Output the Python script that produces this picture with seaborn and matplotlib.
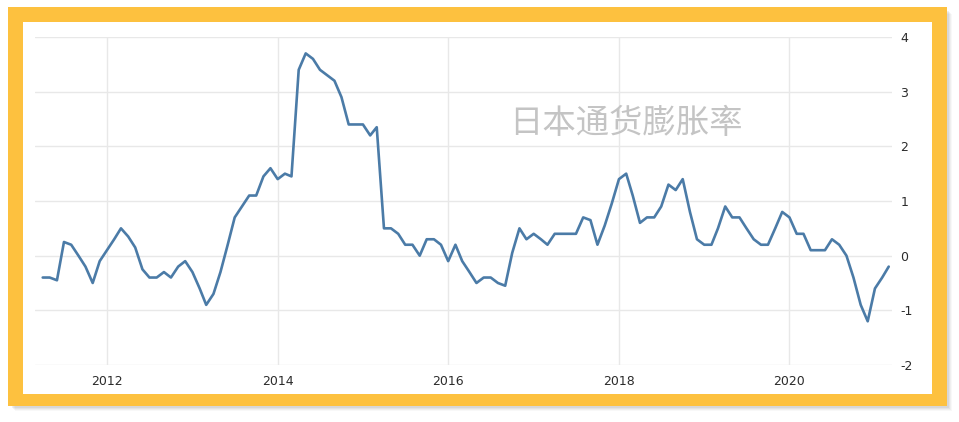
import pandas as pd
import matplotlib.pyplot as plt
import matplotlib.patches as patches
import seaborn as sns

# Japan CPI, year-on-year %, monthly from Apr 2011 to Mar 2021
cpi_2011 = [-0.4, -0.4, -0.45, 0.25, 0.2, 0.0, -0.2, -0.5, -0.1]  # Apr-Dec
cpi_2012 = [0.1, 0.3, 0.5, 0.35, 0.15, -0.25, -0.4, -0.4, -0.3, -0.4, -0.2, -0.1]
cpi_2013 = [-0.3, -0.6, -0.9, -0.7, -0.3, 0.2, 0.7, 0.9, 1.1, 1.1, 1.45, 1.6]
cpi_2014 = [1.4, 1.5, 1.45, 3.4, 3.7, 3.6, 3.4, 3.3, 3.2, 2.9, 2.4, 2.4]
cpi_2015 = [2.4, 2.2, 2.35, 0.5, 0.5, 0.4, 0.2, 0.2, 0.0, 0.3, 0.3, 0.2]
cpi_2016 = [-0.1, 0.2, -0.1, -0.3, -0.5, -0.4, -0.4, -0.5, -0.55, 0.05, 0.5, 0.3]
cpi_2017 = [0.4, 0.3, 0.2, 0.4, 0.4, 0.4, 0.4, 0.7, 0.65, 0.2, 0.55, 0.95]
cpi_2018 = [1.4, 1.5, 1.1, 0.6, 0.7, 0.7, 0.9, 1.3, 1.2, 1.4, 0.8, 0.3]
cpi_2019 = [0.2, 0.2, 0.5, 0.9, 0.7, 0.7, 0.5, 0.3, 0.2, 0.2, 0.5, 0.8]
cpi_2020 = [0.7, 0.4, 0.4, 0.1, 0.1, 0.1, 0.3, 0.2, 0.0, -0.4, -0.9, -1.2]
cpi_2021 = [-0.6, -0.4, -0.2]  # Jan-Mar

x_ticks = ['2012', '2014', '2016', '2018', '2020']
y_ticks = [-2, -1, 0, 1, 2, 3, 4]
title = '日本通货膨胀率'

values = (cpi_2011 + cpi_2012 + cpi_2013 + cpi_2014 + cpi_2015 + cpi_2016
          + cpi_2017 + cpi_2018 + cpi_2019 + cpi_2020 + cpi_2021)
df = pd.DataFrame({'date': pd.date_range('2011-04-01', periods=len(values), freq='MS'),
                   'cpi': values})

sns.set_style('white')
plt.rcParams['font.family'] = ['DejaVu Sans', 'Noto Sans CJK SC']
plt.rcParams['axes.unicode_minus'] = False

W, H = 959, 422
fig = plt.figure(figsize=(W / 100, H / 100), dpi=100)
fig.patch.set_facecolor('white')


def rect(x0, y0, x1, y1, **kw):
    # pixel box measured from the top-left corner
    r = patches.Rectangle((x0 / W, 1 - y1 / H), (x1 - x0) / W, (y1 - y0) / H,
                          transform=fig.transFigure, **kw)
    fig.patches.append(r)


# soft shadow, yellow frame, white panel
for i, a in enumerate([0.05, 0.07, 0.09, 0.12]):
    d = 5 - i
    rect(10 + d, 9 + d, 947 + d, 406 + d, facecolor='#808080', alpha=a, edgecolor='none')
rect(8, 7, 947, 406, facecolor='#fdc13f', edgecolor='none')
rect(23, 22, 932, 394, facecolor='white', edgecolor='none')

ax = fig.add_axes([35 / W, 1 - 365 / H, (892 - 35) / W, (365 - 37) / H])
ax.set_facecolor('none')
ax.set_zorder(2)

sns.lineplot(data=df, x='date', y='cpi', ax=ax, color='#4b7ba7', linewidth=1.9,
             solid_joinstyle='round', solid_capstyle='round')

ax.set_xlim(pd.Timestamp('2011-02-27'), pd.Timestamp('2021-03-15'))
ax.set_ylim(-2, 4)
ax.set_xticks([pd.Timestamp(f'{y}-01-01') for y in x_ticks])
ax.set_xticklabels(x_ticks)
ax.set_yticks(y_ticks)
ax.set_yticklabels([str(v) for v in y_ticks])
ax.yaxis.tick_right()
ax.tick_params(axis='x', length=0, pad=7, labelsize=9, labelcolor='#2b2b2b')
ax.tick_params(axis='y', length=0, pad=6, labelsize=9, labelcolor='#2b2b2b')
ax.set_xlabel('')
ax.set_ylabel('')
ax.grid(True, color='#e8e8e8', linewidth=1)
for s in ax.spines.values():
    s.set_visible(False)

fig.text(626 / W, 1 - 124 / H, title, ha='center', va='center', fontsize=24,
         color='#c4c4c4', family=['Noto Sans CJK SC', 'DejaVu Sans'], zorder=3)

fig.savefig('out.png', dpi=100)
